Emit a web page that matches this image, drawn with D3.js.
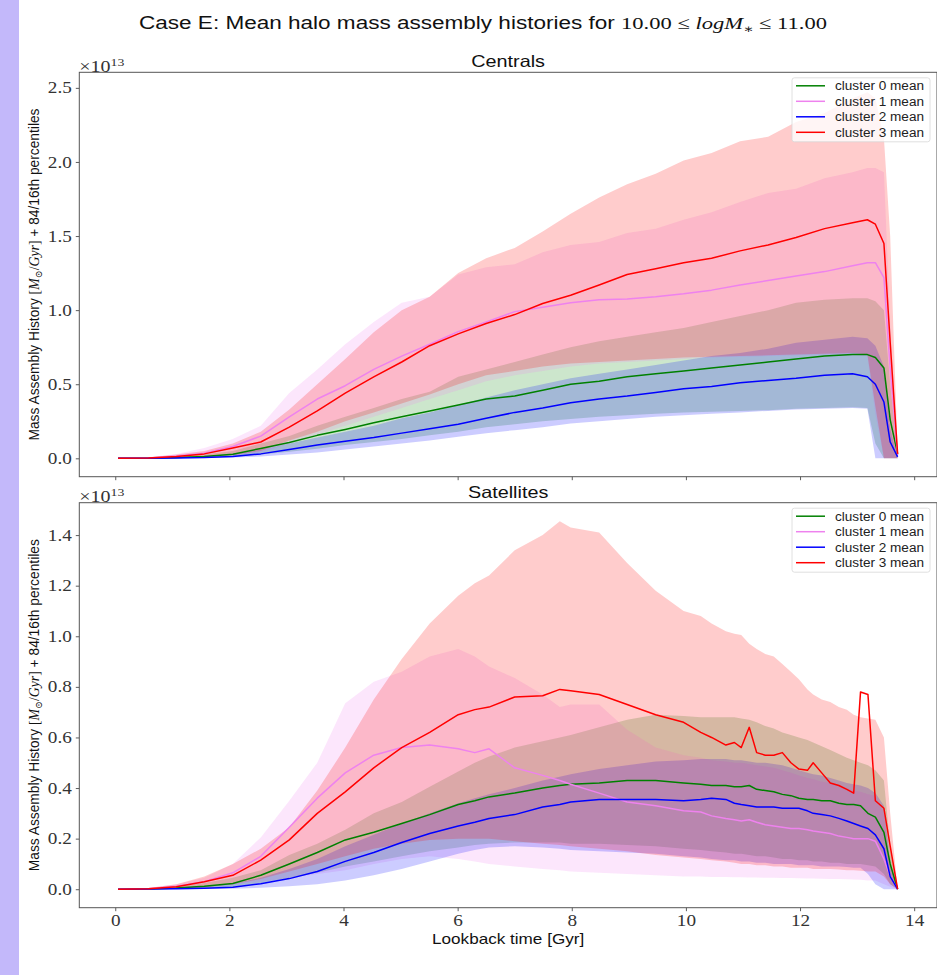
<!DOCTYPE html>
<html>
<head>
<meta charset="utf-8">
<script src="https://cdn.jsdelivr.net/npm/d3@7"></script>
<style>
  body { margin: 0; background: #fff; }
  svg { display: block; }
</style>
</head>
<body>
<svg id="chart" width="937" height="975"></svg>
<script>
// lookback times (Gyr) sampled for each panel
var tCen = [0.05, 0.58, 1.07, 1.56, 2.06, 2.55, 3.05, 3.54, 4.03, 4.53, 5.02, 5.51, 6.01, 6.50, 7.00, 7.49,
            7.98, 8.48, 8.97, 9.47, 9.96, 10.45, 10.95, 11.44, 11.93, 12.43, 12.92, 13.18, 13.32, 13.47, 13.58, 13.71];

var tSat = [0.05, 0.58, 1.07, 1.56, 2.06, 2.55, 3.05, 3.54, 4.03, 4.53, 5.02, 5.51, 6.01, 6.30, 6.55, 7.00,
            7.49, 7.79, 7.98, 8.48, 8.97, 9.47, 9.96, 10.26, 10.45, 10.70, 10.85, 10.97, 11.11, 11.24, 11.39, 11.54,
            11.69, 11.84, 11.98, 12.13, 12.23, 12.38, 12.53, 12.68, 12.82, 12.94, 13.06, 13.19, 13.32, 13.47, 13.58, 13.71];

// Centrals (units of 1e13 Msun/Gyr)
var cenGreenMean = [0, 0.001, 0.005, 0.012, 0.027, 0.067, 0.107, 0.155, 0.195, 0.24, 0.28, 0.32, 0.36, 0.40, 0.42, 0.46,
                    0.50, 0.52, 0.55, 0.57, 0.59, 0.61, 0.63, 0.65, 0.67, 0.69, 0.70, 0.70, 0.68, 0.61, 0.26, 0.03];
var cenGreenHi   = [0, 0.002, 0.01, 0.025, 0.05, 0.10, 0.15, 0.22, 0.28, 0.34, 0.40, 0.45, 0.55, 0.60, 0.65, 0.70,
                    0.75, 0.79, 0.82, 0.85, 0.88, 0.92, 0.96, 1.00, 1.05, 1.07, 1.08, 1.08, 1.06, 1.00, 0.50, 0.03];
var cenGreenLo   = [0, 0.0005, 0.002, 0.005, 0.01, 0.025, 0.045, 0.065, 0.09, 0.11, 0.13, 0.155, 0.18, 0.21, 0.23, 0.25,
                    0.265, 0.28, 0.29, 0.30, 0.31, 0.315, 0.32, 0.325, 0.335, 0.34, 0.345, 0.34, 0.10, 0, 0, 0];

var cenVioletMean = [0, 0.003, 0.015, 0.035, 0.08, 0.15, 0.28, 0.40, 0.49, 0.60, 0.69, 0.77, 0.855, 0.92, 0.99, 1.02,
                     1.05, 1.07, 1.075, 1.09, 1.11, 1.135, 1.17, 1.20, 1.23, 1.26, 1.30, 1.32, 1.32, 1.22, 0.60, 0.02];
var cenVioletHi   = [0, 0.008, 0.03, 0.07, 0.13, 0.22, 0.44, 0.60, 0.77, 0.92, 1.05, 1.09, 1.24, 1.29, 1.31, 1.39,
                     1.44, 1.46, 1.52, 1.55, 1.61, 1.66, 1.73, 1.79, 1.82, 1.89, 1.93, 1.96, 1.96, 1.93, 0.90, 0.03];
var cenVioletLo   = [0, 0.001, 0.004, 0.01, 0.02, 0.04, 0.10, 0.16, 0.22, 0.28, 0.34, 0.40, 0.46, 0.52, 0.56, 0.59,
                     0.62, 0.64, 0.65, 0.66, 0.67, 0.68, 0.685, 0.69, 0.695, 0.70, 0.70, 0.69, 0.30, 0, 0, 0];

var cenBlueMean = [0, 0.0005, 0.002, 0.005, 0.013, 0.03, 0.06, 0.09, 0.115, 0.14, 0.17, 0.20, 0.23, 0.27, 0.31, 0.34,
                   0.375, 0.40, 0.42, 0.445, 0.47, 0.485, 0.51, 0.525, 0.54, 0.56, 0.57, 0.55, 0.50, 0.38, 0.11, 0.01];
var cenBlueHi   = [0, 0.001, 0.004, 0.01, 0.03, 0.06, 0.10, 0.14, 0.18, 0.22, 0.27, 0.31, 0.36, 0.41, 0.46, 0.50,
                   0.54, 0.57, 0.60, 0.63, 0.66, 0.69, 0.71, 0.74, 0.78, 0.80, 0.82, 0.81, 0.76, 0.62, 0.20, 0];
var cenBlueLo   = [0, 0, 0.001, 0.002, 0.005, 0.012, 0.025, 0.04, 0.06, 0.08, 0.10, 0.12, 0.145, 0.17, 0.19, 0.21,
                   0.235, 0.25, 0.265, 0.28, 0.29, 0.30, 0.31, 0.32, 0.33, 0.335, 0.34, 0.335, 0, 0, 0, 0];

var cenRedMean = [0, 0.003, 0.013, 0.03, 0.07, 0.11, 0.21, 0.32, 0.44, 0.55, 0.65, 0.76, 0.84, 0.91, 0.97, 1.045,
                  1.10, 1.17, 1.24, 1.28, 1.32, 1.35, 1.40, 1.44, 1.49, 1.55, 1.59, 1.61, 1.58, 1.45, 0.78, 0.03];
var cenRedHi   = [0, 0.006, 0.025, 0.05, 0.10, 0.18, 0.33, 0.50, 0.67, 0.85, 1.00, 1.09, 1.25, 1.35, 1.42, 1.53,
                  1.65, 1.76, 1.85, 1.92, 2.01, 2.06, 2.14, 2.17, 2.27, 2.33, 2.43, 2.47, 2.43, 2.16, 1.50, 0.05];
var cenRedLo   = [0, 0.001, 0.004, 0.01, 0.02, 0.05, 0.12, 0.18, 0.25, 0.31, 0.37, 0.43, 0.50, 0.56, 0.59, 0.62,
                  0.64, 0.65, 0.66, 0.67, 0.68, 0.685, 0.69, 0.695, 0.70, 0.705, 0.71, 0.70, 0.35, 0, 0, 0];

// Satellites
var satGreenMean = [0, 0.001, 0.005, 0.012, 0.023, 0.055, 0.10, 0.145, 0.195, 0.225, 0.26, 0.295, 0.335, 0.35, 0.365, 0.38,
                    0.40, 0.41, 0.415, 0.42, 0.43, 0.43, 0.42, 0.415, 0.41, 0.41, 0.405, 0.405, 0.41, 0.395, 0.39, 0.385,
                    0.375, 0.37, 0.36, 0.355, 0.355, 0.35, 0.35, 0.34, 0.335, 0.335, 0.33, 0.30, 0.285, 0.225, 0.10, 0];
var satGreenHi   = [0, 0.003, 0.01, 0.025, 0.045, 0.075, 0.135, 0.18, 0.235, 0.30, 0.345, 0.405, 0.465, 0.50, 0.525, 0.56,
                    0.585, 0.60, 0.61, 0.64, 0.67, 0.69, 0.685, 0.68, 0.68, 0.68, 0.68, 0.675, 0.67, 0.66, 0.645, 0.635,
                    0.62, 0.61, 0.60, 0.59, 0.58, 0.565, 0.55, 0.535, 0.52, 0.51, 0.50, 0.49, 0.47, 0.43, 0.17, 0];
var satGreenLo   = [0, 0, 0.002, 0.005, 0.01, 0.025, 0.045, 0.065, 0.09, 0.11, 0.13, 0.15, 0.165, 0.175, 0.18, 0.185,
                    0.185, 0.185, 0.18, 0.18, 0.175, 0.17, 0.16, 0.155, 0.15, 0.145, 0.14, 0.14, 0.135, 0.13, 0.13, 0.125,
                    0.12, 0.12, 0.115, 0.115, 0.11, 0.11, 0.105, 0.105, 0.10, 0.10, 0.10, 0.095, 0.09, 0.06, 0.02, 0];

var satVioletMean = [0, 0.002, 0.012, 0.03, 0.065, 0.13, 0.245, 0.36, 0.46, 0.53, 0.56, 0.57, 0.555, 0.54, 0.555, 0.48,
                     0.45, 0.43, 0.415, 0.38, 0.345, 0.33, 0.31, 0.305, 0.29, 0.28, 0.275, 0.27, 0.275, 0.265, 0.255, 0.25,
                     0.245, 0.24, 0.24, 0.235, 0.23, 0.225, 0.22, 0.21, 0.205, 0.20, 0.20, 0.20, 0.19, 0.12, 0.05, 0];
var satVioletHi   = [0, 0.005, 0.02, 0.045, 0.10, 0.205, 0.35, 0.50, 0.735, 0.82, 0.86, 0.92, 0.95, 0.92, 0.88, 0.835,
                     0.77, 0.72, 0.73, 0.73, 0.63, 0.56, 0.53, 0.52, 0.51, 0.505, 0.50, 0.50, 0.495, 0.49, 0.485, 0.48,
                     0.47, 0.46, 0.45, 0.44, 0.435, 0.425, 0.42, 0.41, 0.40, 0.39, 0.385, 0.375, 0.37, 0.30, 0.10, 0];
var satVioletLo   = [0, 0, 0.003, 0.008, 0.018, 0.03, 0.045, 0.06, 0.075, 0.10, 0.12, 0.13, 0.12, 0.11, 0.10, 0.09,
                     0.08, 0.075, 0.07, 0.065, 0.06, 0.055, 0.05, 0.05, 0.048, 0.048, 0.047, 0.047, 0.046, 0.046, 0.045, 0.045,
                     0.044, 0.044, 0.043, 0.042, 0.042, 0.041, 0.04, 0.04, 0.039, 0.038, 0.037, 0.035, 0.035, 0.02, 0.01, 0];

var satBlueMean = [0, 0.0005, 0.002, 0.004, 0.008, 0.022, 0.042, 0.07, 0.11, 0.145, 0.185, 0.22, 0.25, 0.265, 0.28, 0.295,
                   0.325, 0.335, 0.345, 0.355, 0.355, 0.355, 0.35, 0.355, 0.36, 0.355, 0.34, 0.335, 0.33, 0.325, 0.325, 0.325,
                   0.32, 0.32, 0.32, 0.31, 0.30, 0.295, 0.29, 0.28, 0.27, 0.26, 0.25, 0.24, 0.215, 0.16, 0.05, 0];
var satBlueHi   = [0, 0.002, 0.006, 0.012, 0.022, 0.045, 0.08, 0.12, 0.17, 0.215, 0.26, 0.30, 0.34, 0.36, 0.375, 0.40,
                   0.43, 0.445, 0.455, 0.475, 0.49, 0.505, 0.51, 0.515, 0.515, 0.515, 0.51, 0.51, 0.505, 0.50, 0.50, 0.495,
                   0.49, 0.48, 0.47, 0.46, 0.455, 0.45, 0.44, 0.43, 0.42, 0.415, 0.41, 0.40, 0.38, 0.33, 0.10, 0];
var satBlueLo   = [0, 0, 0.0005, 0.001, 0.002, 0.006, 0.012, 0.02, 0.035, 0.055, 0.08, 0.11, 0.14, 0.155, 0.165, 0.17,
                   0.165, 0.16, 0.155, 0.15, 0.145, 0.14, 0.13, 0.125, 0.12, 0.115, 0.115, 0.11, 0.11, 0.105, 0.105, 0.10,
                   0.10, 0.10, 0.095, 0.095, 0.095, 0.09, 0.09, 0.09, 0.088, 0.085, 0.085, 0.06, 0.02, 0, 0, 0];

var satRedMean = [0, 0.002, 0.01, 0.03, 0.055, 0.115, 0.195, 0.30, 0.385, 0.48, 0.56, 0.62, 0.69, 0.71, 0.72, 0.76,
                  0.765, 0.79, 0.785, 0.77, 0.73, 0.69, 0.66, 0.62, 0.60, 0.57, 0.58, 0.56, 0.64, 0.54, 0.53, 0.53,
                  0.54, 0.50, 0.475, 0.47, 0.50, 0.46, 0.42, 0.41, 0.395, 0.38, 0.78, 0.77, 0.35, 0.32, 0.17, 0];
var satRedHi   = [0, 0.005, 0.02, 0.05, 0.10, 0.16, 0.245, 0.39, 0.56, 0.75, 0.91, 1.05, 1.16, 1.21, 1.24, 1.34,
                  1.40, 1.455, 1.43, 1.41, 1.29, 1.18, 1.10, 1.08, 1.05, 1.02, 1.01, 1.005, 0.97, 0.95, 0.93, 0.92,
                  0.89, 0.86, 0.83, 0.79, 0.77, 0.75, 0.74, 0.72, 0.71, 0.69, 0.68, 0.675, 0.67, 0.60, 0.30, 0];
var satRedLo   = [0, 0, 0.002, 0.008, 0.02, 0.04, 0.07, 0.10, 0.13, 0.16, 0.18, 0.195, 0.20, 0.20, 0.20, 0.19,
                  0.18, 0.175, 0.17, 0.16, 0.15, 0.135, 0.125, 0.12, 0.115, 0.11, 0.105, 0.10, 0.10, 0.095, 0.095, 0.09,
                  0.09, 0.085, 0.085, 0.085, 0.08, 0.08, 0.08, 0.078, 0.075, 0.075, 0.073, 0.07, 0.07, 0.05, 0.02, 0];

var clusterNames = ["cluster 0 mean", "cluster 1 mean", "cluster 2 mean", "cluster 3 mean"];
var clusterColors = ["#008000", "#ee82ee", "#0000ff", "#ff0000"];
var xTicks = [0, 2, 4, 6, 8, 10, 12, 14];
var cenYTicks = [0, 0.5, 1.0, 1.5, 2.0, 2.5];
var satYTicks = [0, 0.2, 0.4, 0.6, 0.8, 1.0, 1.2, 1.4];

var svg = d3.select("#chart");
var serif = "'Liberation Serif', 'DejaVu Serif', serif";
var sans = "'Liberation Sans', Arial, sans-serif";

// the reference figure is stretched sideways, so horizontal text gets widened
function widen(sel, f) {
    sel.each(function () {
        var len = this.getComputedTextLength();
        d3.select(this).attr("textLength", len * f).attr("lengthAdjust", "spacingAndGlyphs");
    });
}

// purple strip on the left
svg.append("rect").attr("x", 0).attr("y", 0).attr("width", 19).attr("height", 975).attr("fill", "#c3b8fa");

var xScale = d3.scaleLinear().domain([-0.63, 14.40]).range([79.3, 937]);

// suptitle
var title = svg.append("text")
    .attr("x", 483).attr("y", 29)
    .attr("text-anchor", "middle")
    .attr("font-size", 17.5)
    .attr("fill", "#111")
    .attr("textLength", 688).attr("lengthAdjust", "spacingAndGlyphs");
title.append("tspan").attr("font-family", sans).text("Case E: Mean halo mass assembly histories for ");
title.append("tspan").attr("font-family", serif).text("10.00 \u2264 ");
title.append("tspan").attr("font-family", serif).attr("font-style", "italic").text("logM");
title.append("tspan").attr("font-family", serif).attr("font-size", 12).attr("dy", 4).text("\u2217");
title.append("tspan").attr("font-family", serif).attr("dy", -4).text(" \u2264 11.00");

var panels = [
    {name: "Centrals", top: 72.3, bottom: 476.7, domain: [-0.124, 2.605], ticks: cenYTicks, t: tCen, showX: false,
     series: [
        {mean: cenGreenMean, lo: cenGreenLo, hi: cenGreenHi},
        {mean: cenVioletMean, lo: cenVioletLo, hi: cenVioletHi},
        {mean: cenBlueMean, lo: cenBlueLo, hi: cenBlueHi},
        {mean: cenRedMean, lo: cenRedLo, hi: cenRedHi}]},
    {name: "Satellites", top: 502.7, bottom: 907.7, domain: [-0.073, 1.528], ticks: satYTicks, t: tSat, showX: true,
     series: [
        {mean: satGreenMean, lo: satGreenLo, hi: satGreenHi},
        {mean: satVioletMean, lo: satVioletLo, hi: satVioletHi},
        {mean: satBlueMean, lo: satBlueLo, hi: satBlueHi},
        {mean: satRedMean, lo: satRedLo, hi: satRedHi}]}
];

panels.forEach(function (p, pi) {
    var yScale = d3.scaleLinear().domain(p.domain).range([p.bottom, p.top]);
    var left = xScale.range()[0], right = xScale.range()[1];

    var clipId = "clip" + pi;
    svg.append("clipPath").attr("id", clipId)
        .append("rect").attr("x", left).attr("y", p.top)
        .attr("width", right - left).attr("height", p.bottom - p.top);

    var g = svg.append("g").attr("clip-path", "url(#" + clipId + ")");

    // 84/16th percentile bands
    p.series.forEach(function (s, i) {
        var pts = p.t.map(function (t, k) { return {t: t, lo: s.lo[k], hi: s.hi[k]}; });
        var area = d3.area()
            .x(function (d) { return xScale(d.t); })
            .y0(function (d) { return yScale(d.lo); })
            .y1(function (d) { return yScale(d.hi); });
        g.append("path").datum(pts)
            .attr("d", area)
            .attr("fill", clusterColors[i])
            .attr("fill-opacity", 0.2);
    });

    // mean lines
    p.series.forEach(function (s, i) {
        var pts = p.t.map(function (t, k) { return {t: t, v: s.mean[k]}; });
        var line = d3.line()
            .x(function (d) { return xScale(d.t); })
            .y(function (d) { return yScale(d.v); });
        g.append("path").datum(pts)
            .attr("d", line)
            .attr("fill", "none")
            .attr("stroke", clusterColors[i])
            .attr("stroke-width", 1.5)
            .attr("stroke-linejoin", "round");
    });

    // axes
    var yAxis = svg.append("g")
        .attr("transform", "translate(" + left + ",0)")
        .call(d3.axisLeft(yScale).tickValues(p.ticks).tickSize(3.5).tickPadding(4)
            .tickFormat(d3.format(".1f")));
    var xAxis = svg.append("g")
        .attr("transform", "translate(0," + p.bottom + ")")
        .call(d3.axisBottom(xScale).tickValues(xTicks).tickSize(3.5).tickPadding(3)
            .tickFormat(p.showX ? d3.format("d") : ""));
    [yAxis, xAxis].forEach(function (a) {
        a.select(".domain").remove();
        a.selectAll(".tick line").attr("stroke", "#333").attr("stroke-width", 0.8);
        a.selectAll(".tick text")
            .attr("font-family", serif)
            .attr("font-size", 16)
            .attr("fill", "#333");
        widen(a.selectAll(".tick text"), 1.2);
    });

    // spines
    svg.append("rect")
        .attr("x", left).attr("y", p.top)
        .attr("width", right - left).attr("height", p.bottom - p.top)
        .attr("fill", "none").attr("stroke", "#555").attr("stroke-width", 1);

    // offset text
    var off = svg.append("text")
        .attr("x", left).attr("y", p.top - 0.5)
        .attr("font-family", serif).attr("font-size", 16).attr("fill", "#333");
    off.append("tspan").text("\u00d710");
    off.append("tspan").attr("font-size", 11).attr("dy", -6).text("13");
    widen(off, 1.25);

    // panel title
    var pt = svg.append("text")
        .attr("x", (left + right) / 2).attr("y", p.top - 5)
        .attr("text-anchor", "middle")
        .attr("font-family", sans).attr("font-size", 16.5).attr("fill", "#111")
        .text(p.name);
    widen(pt, 1.2);

    // y label
    var cy = (p.top + p.bottom) / 2;
    var yl = svg.append("text")
        .attr("transform", "translate(39," + cy + ") rotate(-90)")
        .attr("text-anchor", "middle")
        .attr("font-size", 14.5).attr("fill", "#111")
        .attr("textLength", 332).attr("lengthAdjust", "spacingAndGlyphs");
    yl.append("tspan").attr("font-family", sans).text("Mass Assembly History ");
    yl.append("tspan").attr("font-family", serif).text("[");
    yl.append("tspan").attr("font-family", serif).attr("font-style", "italic").text("M");
    yl.append("tspan").attr("font-family", serif).attr("font-size", 10).attr("dy", 3).text("\u2299");
    yl.append("tspan").attr("font-family", serif).attr("dy", -3).text("/");
    yl.append("tspan").attr("font-family", serif).attr("font-style", "italic").text("Gyr");
    yl.append("tspan").attr("font-family", serif).text("]");
    yl.append("tspan").attr("font-family", sans).text(" + 84/16th percentiles");

    // legend
    var lx = 792, ly = p.top + 5.5, lw = 138, lh = 64;
    var lg = svg.append("g");
    lg.append("rect")
        .attr("x", lx).attr("y", ly).attr("width", lw).attr("height", lh)
        .attr("rx", 2.5).attr("fill", "#fff").attr("fill-opacity", 0.8)
        .attr("stroke", "#d8d8d8").attr("stroke-width", 0.8);
    clusterNames.forEach(function (name, i) {
        var ry = ly + 8 + i * 15.5;
        lg.append("line")
            .attr("x1", lx + 4).attr("x2", lx + 33)
            .attr("y1", ry).attr("y2", ry)
            .attr("stroke", clusterColors[i]).attr("stroke-width", 1.5);
        lg.append("text")
            .attr("x", lx + 43).attr("y", ry + 4.3)
            .attr("font-family", sans).attr("font-size", 12.5).attr("fill", "#222")
            .attr("textLength", 89).attr("lengthAdjust", "spacingAndGlyphs")
            .text(name);
    });
});

// x label
var xl = svg.append("text")
    .attr("x", (xScale.range()[0] + xScale.range()[1]) / 2).attr("y", 943.5)
    .attr("text-anchor", "middle")
    .attr("font-family", sans).attr("font-size", 14.5).attr("fill", "#111")
    .text("Lookback time [Gyr]");
widen(xl, 1.18);
</script>
</body>
</html>
